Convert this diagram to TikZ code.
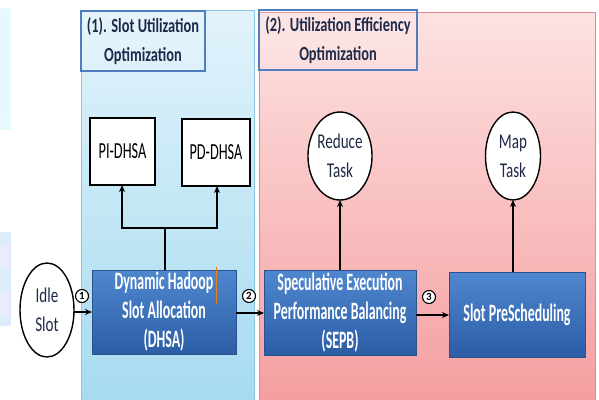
\documentclass[tikz,border=0pt]{standalone}
\usepackage{fontspec}
\setmainfont{Carlito}
\newfontfamily\titlefont{Carlito}[FakeStretch=0.72]
\newfontfamily\procfont{Carlito}[FakeStretch=0.555]
\newfontfamily\boxfont{Carlito}[FakeStretch=0.62]
\newfontfamily\ovalfont{Carlito}[FakeStretch=0.72]
\usetikzlibrary{arrows.meta,shapes.geometric,shadings}
\definecolor{panelblueTop}{HTML}{E2F3FB}
\definecolor{panelblueBot}{HTML}{A6DBF0}
\definecolor{panelblueEdge}{HTML}{8CC9E4}
\definecolor{panelpinkTop}{HTML}{FDE2E2}
\definecolor{panelpinkBot}{HTML}{F59E9F}
\definecolor{panelpinkEdge}{HTML}{E6898C}
\definecolor{titleEdge}{HTML}{4E7DC0}
\definecolor{procTop}{HTML}{4F87CE}
\definecolor{procBot}{HTML}{2C5DA5}
\definecolor{procEdge}{HTML}{29528F}
\definecolor{inktext}{HTML}{1E2A4A}
\definecolor{edgeCyan}{HTML}{E4FAFC}
\definecolor{edgeBlue}{HTML}{DDEBFA}
\tikzset{
  every node/.style={inner sep=0pt, outer sep=0pt},
  titlebox/.style={draw=titleEdge, line width=1.3pt, fill=white, fill opacity=0.15, text opacity=1,
    minimum height=60pt, align=center, text=inktext,
    font=\titlefont\bfseries\fontsize{20}{29}\selectfont},
  procbox/.style={draw=procEdge, line width=0.6pt, top color=procTop, bottom color=procBot,
    align=center, text=white, font=\procfont\bfseries\fontsize{25}{29}\selectfont},
  whitebox/.style={draw=black, line width=1.4pt, fill=white, minimum height=67pt,
    font=\boxfont\fontsize{23}{24}\selectfont},
  taskoval/.style={draw=black, line width=1.4pt, fill=white, ellipse,
    align=center, text=inktext, font=\ovalfont\fontsize{21}{29}\selectfont},
  stepmark/.style={draw=black, line width=1.1pt, fill=white, circle, minimum size=13pt,
    font=\bfseries\fontsize{11}{11}\selectfont},
  flow/.style={draw=black, line width=1.4pt, -{Stealth[length=7pt,width=6pt]}},
  tie/.style={draw=black, line width=1.4pt},
}
\begin{document}
\begin{tikzpicture}[x=1pt,y=-1pt]
\useasboundingbox (0,0) rectangle (599,399);
\fill[white] (0,0) rectangle (599,399);

% faint marks along the left edge
\fill[edgeCyan] (0,8) rectangle (11,130);
\fill[cyan!10] (2,20) rectangle (10,110);
\fill[edgeBlue] (0,232) rectangle (11,326);
\fill[blue!8] (0,245) rectangle (9,268);
\fill[blue!8] (0,292) rectangle (9,316);

% stage panels
\shade[top color=panelblueTop, bottom color=panelblueBot, draw=panelblueEdge, line width=0.8pt]
  (81,10) rectangle (254,402);
\shade[top color=panelpinkTop, bottom color=panelpinkBot, draw=panelpinkEdge, line width=0.8pt]
  (259,12) rectangle (595,402);

% stage titles
\node[titlebox, minimum width=124pt, anchor=north west] (t1) at (81,11)
  {(1). Slot Utilization\\Optimization};
\node[titlebox, minimum width=158pt, anchor=north west] (t2) at (259,10)
  {(2). Utilization Efficiency\\Optimization};

% stage 1 boxes
\node[whitebox, minimum width=65pt, anchor=north west] (pi) at (90,118) {PI-DHSA};
\node[whitebox, minimum width=68pt, anchor=north west] (pd) at (182,119) {PD-DHSA};
\node[procbox, minimum width=144pt, minimum height=84pt, anchor=north west] (dhsa) at (92,270)
  {Dynamic Hadoop\\Slot Allocation\\(DHSA)};
\draw[draw=orange!70!brown, line width=0.8pt] (216.5,267) -- (216.5,304);

% stage 2 boxes
\node[procbox, minimum width=152pt, minimum height=85pt, anchor=north west] (sepb) at (264,270)
  {Speculative Execution\\Performance Balancing\\(SEPB)};
\node[procbox, minimum width=136pt, minimum height=85pt, anchor=north west] (sps) at (449,272)
  {Slot PreScheduling};

% ovals
\node[taskoval, minimum width=54pt, minimum height=94pt] (idle) at (47,310) {Idle\\Slot};
\node[taskoval, minimum width=54pt, minimum height=88pt] (reduce) at (340,156) {Reduce\\Task};
\node[taskoval, minimum width=55pt, minimum height=88pt] (map) at (513,156) {Map\\Task};

% connectors
\coordinate (split) at (165,228);
\draw[tie] (dhsa.north -| split) -- (split);
\draw[tie] (122,228) -- (217,228);
\draw[flow] (split) -| (pi.south -| 122,0);
\draw[flow] (split) -| (pd.south -| 217,0);

\draw[flow] (idle.east |- 0,312) -- (dhsa.west |- 0,312);
\draw[flow] (dhsa.east |- 0,313) -- (sepb.west |- 0,313);
\draw[flow] (sepb.east |- 0,315) -- (sps.west |- 0,315);
\draw[flow] (sepb.north -| reduce) -- (reduce.south);
\draw[flow] (sps.north -| map) -- (map.south);

% step numbers
\node[stepmark] (n1) at (82,296) {1};
\node[stepmark] (n2) at (249,296) {2};
\node[stepmark] (n3) at (429,297) {3};
\end{tikzpicture}
\end{document}
